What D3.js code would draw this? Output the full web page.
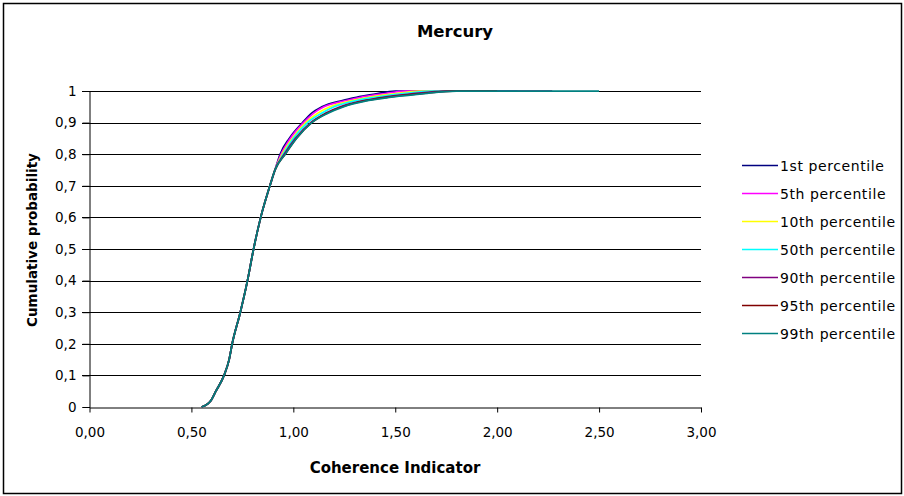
<!DOCTYPE html>
<html>
<head>
<meta charset="utf-8">
<script src="https://cdn.jsdelivr.net/npm/d3@7"></script>
<style>
  body { margin: 0; background: #fff; }
  text { font-family: "DejaVu Sans", sans-serif; fill: #000; }
</style>
</head>
<body>
<script>
// cumulative probability levels shared by all series
const levels = [0, 0.01, 0.02, 0.05, 0.1, 0.15, 0.2, 0.3, 0.4, 0.5, 0.6, 0.7, 0.75,
                0.8, 0.85, 0.9, 0.93, 0.95, 0.97, 0.98, 0.99, 1, 1];

// coherence indicator value reached at each level
const lower = [0.55, 0.58, 0.595, 0.62, 0.66, 0.685, 0.70, 0.74, 0.775, 0.805, 0.84, 0.885, 0.91];
const p1  = lower.concat([0.935, 0.98, 1.045, 1.09, 1.14, 1.24, 1.31, 1.40, 1.50, 1.67]);
const p5  = lower.concat([0.94, 0.985, 1.05, 1.10, 1.15, 1.26, 1.33, 1.43, 1.55, 1.92]);
const p10 = lower.concat([0.945, 0.995, 1.06, 1.12, 1.18, 1.29, 1.37, 1.48, 1.62, 1.82]);
const p50 = lower.concat([0.95, 1.00, 1.07, 1.14, 1.20, 1.31, 1.40, 1.52, 1.68, 2.10]);
const p90 = lower.concat([0.955, 1.01, 1.085, 1.16, 1.23, 1.35, 1.44, 1.57, 1.75, 2.27]);
const p95 = lower.concat([0.96, 1.015, 1.09, 1.165, 1.24, 1.36, 1.46, 1.60, 1.78, 2.00]);
const p99 = lower.concat([0.96, 1.015, 1.09, 1.17, 1.245, 1.37, 1.47, 1.62, 1.80, 2.50]);

const seriesNames = ["1st percentile", "5th percentile", "10th percentile", "50th percentile",
                     "90th percentile", "95th percentile", "99th percentile"];
const seriesValues = [p1, p5, p10, p50, p90, p95, p99];
const colors = ["#000080", "#ff00ff", "#ffff00", "#00ffff", "#800080", "#800000", "#008080"];

const xTicks = [0, 0.5, 1, 1.5, 2, 2.5, 3];
const yTicks = [0, 0.1, 0.2, 0.3, 0.4, 0.5, 0.6, 0.7, 0.8, 0.9, 1];

const width = 904, height = 496;
const svg = d3.select("body").append("svg")
    .attr("width", width).attr("height", height);

// outer frame
svg.append("rect")
    .attr("x", 3.5).attr("y", 3.5)
    .attr("width", 898).attr("height", 490)
    .attr("fill", "#fff").attr("stroke", "#000").attr("stroke-width", 1.5);

const x = d3.scaleLinear().domain([0, 3]).range([89.5, 701]);
const y = d3.scaleLinear().domain([0, 1]).range([407, 91]);

// horizontal gridlines (with the left tick stub)
svg.append("g").selectAll("line").data(yTicks.filter(d => d > 0)).enter().append("line")
    .attr("x1", 82).attr("x2", 701)
    .attr("y1", d => Math.round(y(d)) + 0.5).attr("y2", d => Math.round(y(d)) + 0.5)
    .attr("stroke", "#000").attr("stroke-width", 1);

// y axis
const yAxis = d3.axisLeft(y).tickValues(yTicks).tickSize(7).tickPadding(6)
    .tickFormat(d => d === 0 || d === 1 ? String(d) : d3.format(".1f")(d).replace(".", ","));
svg.append("g")
    .attr("transform", "translate(89.5,0)")
    .call(yAxis)
    .call(g => g.selectAll("text").attr("font-size", 13.5)
        .attr("font-family", "'DejaVu Sans', sans-serif"))
    .call(g => g.selectAll("line,path").attr("stroke", "#000"));

// x axis
const xAxis = d3.axisBottom(x).tickValues(xTicks).tickSize(5).tickSizeOuter(0).tickPadding(15)
    .tickFormat(d => d3.format(".2f")(d).replace(".", ","));
svg.append("g")
    .attr("transform", "translate(0,407.5)")
    .call(xAxis)
    .call(g => g.selectAll("text").attr("font-size", 13.5)
        .attr("font-family", "'DejaVu Sans', sans-serif"))
    .call(g => g.selectAll("line,path").attr("stroke", "#000"));

// curves
const line = d3.line()
    .x(d => x(d[0]))
    .y(d => y(d[1]))
    .curve(d3.curveMonotoneX);

svg.append("g").selectAll("path").data(seriesValues).enter().append("path")
    .attr("d", vals => line(vals.map((v, i) => [v, levels[i]])))
    .attr("fill", "none")
    .attr("stroke", (d, i) => colors[i])
    .attr("stroke-width", 1.75);

// titles
svg.append("text")
    .attr("x", 455).attr("y", 37)
    .attr("text-anchor", "middle")
    .attr("font-size", 16.5).attr("font-weight", "bold")
    .text("Mercury");

svg.append("text")
    .attr("x", 395).attr("y", 473)
    .attr("text-anchor", "middle")
    .attr("font-size", 15).attr("font-weight", "bold")
    .text("Coherence Indicator");

svg.append("text")
    .attr("transform", "translate(37,240) rotate(-90)")
    .attr("text-anchor", "middle")
    .attr("font-family", "Arial, 'Liberation Sans', sans-serif")
    .attr("font-size", 13.5).attr("font-weight", "bold")
    .text("Cumulative probability");

// legend
const legend = svg.append("g").selectAll("g").data(seriesNames).enter().append("g")
    .attr("transform", (d, i) => "translate(742," + (165 + i * 28) + ")");
legend.append("line")
    .attr("x1", 0).attr("x2", 36).attr("y1", 0.5).attr("y2", 0.5)
    .attr("stroke", (d, i) => colors[i]).attr("stroke-width", 1.5);
legend.append("text")
    .attr("x", 38).attr("y", 5.5)
    .attr("font-size", 14).attr("letter-spacing", 0.6)
    .text(d => d);
</script>
</body>
</html>
